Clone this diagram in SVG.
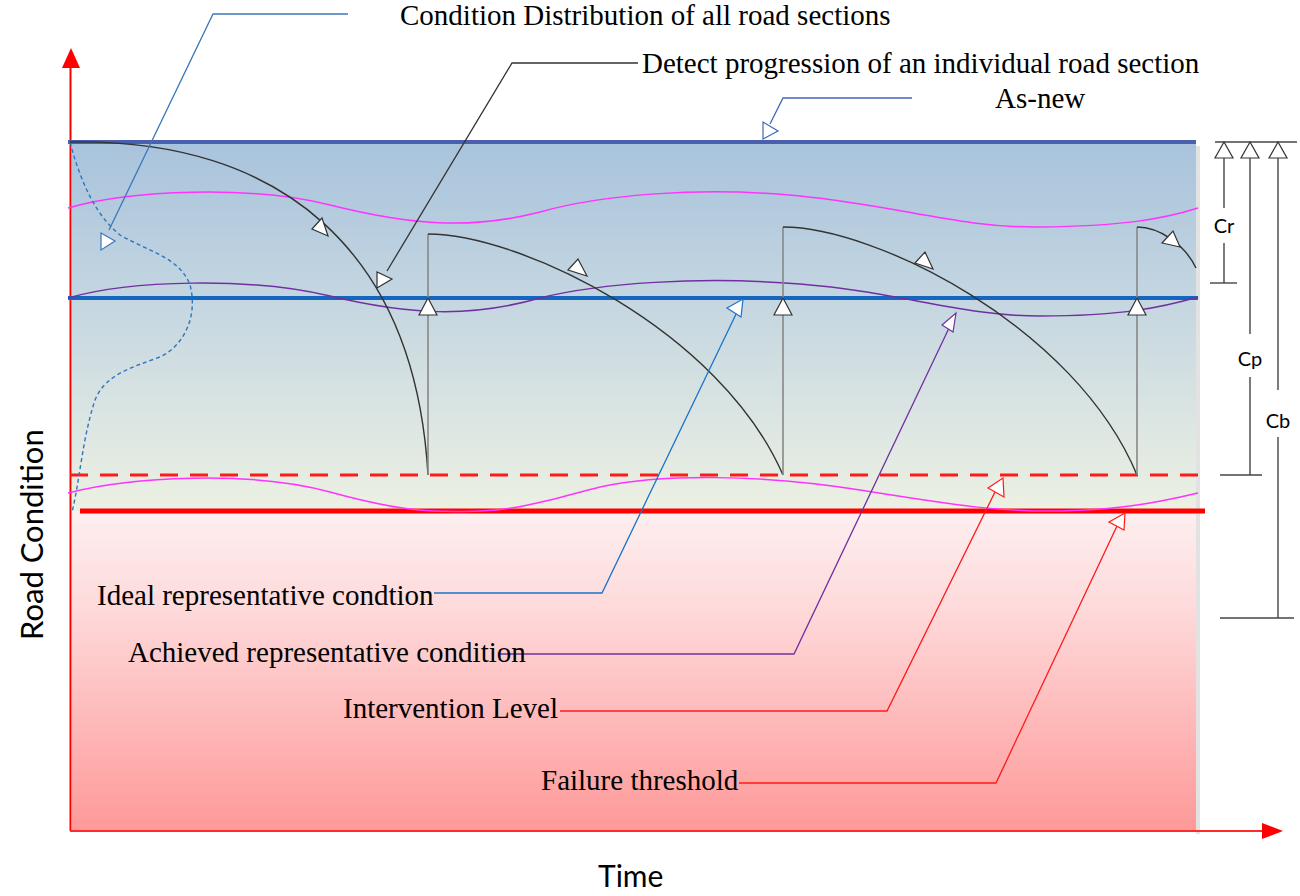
<svg xmlns="http://www.w3.org/2000/svg" width="1300" height="896" viewBox="0 0 1300 896">
<defs>
<linearGradient id="gTop" x1="0" y1="0" x2="0" y2="1">
<stop offset="0" stop-color="#a8c3dc"/>
<stop offset="0.45" stop-color="#c6d7e1"/>
<stop offset="1" stop-color="#edf1e3"/>
</linearGradient>
<linearGradient id="gBot" x1="0" y1="0" x2="0" y2="1">
<stop offset="0" stop-color="#fdeff0"/>
<stop offset="0.3" stop-color="#fedadb"/>
<stop offset="1" stop-color="#fe9999"/>
</linearGradient>
<style>
.serif{font-family:"Liberation Serif","DejaVu Serif",serif;font-size:29px;fill:#000}
.sans{font-family:Lato,"Liberation Sans",sans-serif;fill:#000}
.tri{fill:#ffffff;stroke:#333;stroke-width:1.2;stroke-linejoin:miter}
.curve{fill:none;stroke:#333;stroke-width:1.4}
.vert{fill:none;stroke:#888;stroke-width:1.6}
.dim{fill:none;stroke:#444;stroke-width:1.4}
.lead{fill:none;stroke-width:1.3}
</style>
</defs>
<rect width="1300" height="896" fill="#ffffff"/>

<g id="background">
<rect x="1196" y="146" width="4" height="688" fill="#e2e2e2"/>
<rect x="72" y="142" width="1124" height="370" fill="url(#gTop)"/>
<rect x="72" y="511" width="1124" height="320" fill="url(#gBot)"/>
</g>

<g id="axes">
<line x1="70.5" y1="66" x2="70.5" y2="831" stroke="#ff0000" stroke-width="2"/>
<polygon points="71,48 62,68 80,68" fill="#ff0000"/>
<line x1="70" y1="831" x2="1264" y2="831" stroke="#ff2a2a" stroke-width="2"/>
<polygon points="1283,831 1262,823 1262,839" fill="#ff0000"/>
<text class="sans" font-size="31" transform="translate(43,640) rotate(-90)">Road Condition</text>
<text class="sans" font-size="30" x="598" y="887">Time</text>
</g>

<g id="levels">
<line id="as-new-line" x1="68" y1="142" x2="1196" y2="142" stroke="#4a5fae" stroke-width="4"/>
<line id="ideal-line" x1="68" y1="298" x2="1198" y2="298" stroke="#1466be" stroke-width="4"/>
<line id="intervention-line" x1="70" y1="475" x2="1198" y2="475" stroke="#ff1a1a" stroke-width="3" stroke-dasharray="18,12"/>
<line id="failure-line" x1="80" y1="511" x2="1205" y2="511" stroke="#ff0000" stroke-width="5"/>
</g>

<g id="distribution-curves">
<path d="M68,208 C130,190 250,185 330,205 S470,230 540,212 C600,195 700,186 800,196 S960,228 1040,227 S1160,220 1198,208" fill="none" stroke="#ff33ff" stroke-width="1.5"/>
<path d="M68,298 C130,280 250,277 330,296 S470,318 540,298 C600,283 700,276 800,284 S960,316 1040,316 S1160,308 1198,297" fill="none" stroke="#7030a0" stroke-width="1.5"/>
<path d="M68,493 C130,477 250,470 330,492 S440,512 480,511 S560,497 600,487 C660,474 760,474 860,490 S1000,512 1060,511 S1160,502 1198,493" fill="none" stroke="#ff33ff" stroke-width="1.5"/>
<path d="M70,142 C80,180 95,215 120,235 C150,252 180,258 190,285 C198,315 185,345 160,357 C130,368 105,375 95,400 C82,440 80,480 72,512" fill="none" stroke="#2e75c0" stroke-width="1.4" stroke-dasharray="4,3"/>
</g>

<g id="progression">
<path class="curve" d="M70,142 C280,138 415,250 428,475"/>
<line class="vert" x1="428" y1="475" x2="428" y2="234"/>
<path class="curve" d="M428,234 C520,234 720,330 783,475"/>
<line class="vert" x1="783" y1="475" x2="783" y2="227"/>
<path class="curve" d="M783,227 C875,227 1075,326 1137,475"/>
<line class="vert" x1="1137" y1="475" x2="1137" y2="227"/>
<path class="curve" d="M1137,227 C1160,227 1185,245 1196,268"/>
<polygon class="tri" points="312,229 322,218 328,236"/>
<polygon class="tri" points="568,270 578,259 587,276"/>
<polygon class="tri" points="915,263 925,252 933,269"/>
<polygon class="tri" points="1162,243 1173,231 1180,247"/>
<polygon class="tri" points="428,298 419,315 437,315"/>
<polygon class="tri" points="783,298 774,315 792,315"/>
<polygon class="tri" points="1137,298 1128,315 1146,315"/>
</g>

<g id="connectors">
<polyline class="lead" stroke="#3a78b8" points="348,14 213,14 109,230"/>
<polygon points="101,233 101,250 115,241" fill="#fff" stroke="#3a78b8" stroke-width="1.2"/>
<polyline class="lead" stroke="#333" points="638,63 512,63 387,271"/>
<polygon points="377,272 377,288 392,279" fill="#fff" stroke="#333" stroke-width="1.2"/>
<polyline class="lead" stroke="#4466bb" points="912,98 783,98 770,124"/>
<polygon points="763,122 763,139 778,131" fill="#fff" stroke="#4466bb" stroke-width="1.2"/>
<polyline class="lead" stroke="#1a73c9" points="434,593 602,593 738,310"/>
<polygon points="727,308 743,299 741,317" fill="#fff" stroke="#1a73c9" stroke-width="1.2"/>
<polyline class="lead" stroke="#7030a0" points="500,654 794,654 950,326"/>
<polygon points="942,325 956,313 953,332" fill="#fff" stroke="#7030a0" stroke-width="1.2"/>
<polyline class="lead" stroke="#ff1a1a" points="560,711 887,711 997,488"/>
<polygon points="988,488 1003,478 1004,497" fill="#fff" stroke="#ff1a1a" stroke-width="1.2"/>
<polyline class="lead" stroke="#ff1a1a" points="739,783 996,783 1117,526"/>
<polygon points="1109,522 1125,513 1124,530" fill="#fff" stroke="#ff1a1a" stroke-width="1.2"/>
</g>

<g id="labels">
<text id="lbl-distribution" class="serif" x="400" y="25">Condition Distribution of all road sections</text>
<text id="lbl-detect" class="serif" x="642" y="73">Detect progression of an individual road section</text>
<text id="lbl-asnew" class="serif" x="995" y="108">As-new</text>
<text id="lbl-ideal" class="serif" x="97" y="605">Ideal representative condtion</text>
<text id="lbl-achieved" class="serif" x="128" y="662">Achieved representative condition</text>
<text id="lbl-intervention" class="serif" x="343" y="718">Intervention Level</text>
<text id="lbl-failure" class="serif" x="541" y="790">Failure threshold</text>
</g>

<g id="dimensions">
<line class="dim" x1="1215" y1="142" x2="1297" y2="142"/>
<polygon class="tri" points="1224,142 1215,158 1233,158"/>
<polygon class="tri" points="1250,142 1241,158 1259,158"/>
<polygon class="tri" points="1278,142 1269,158 1287,158"/>
<line class="dim" x1="1224" y1="158" x2="1224" y2="208"/>
<line class="dim" x1="1224" y1="243" x2="1224" y2="283"/>
<line class="dim" x1="1210" y1="283" x2="1237" y2="283"/>
<text class="sans" font-size="20" x="1224" y="233" text-anchor="middle">Cr</text>
<line class="dim" x1="1250" y1="158" x2="1250" y2="334"/>
<line class="dim" x1="1250" y1="377" x2="1250" y2="475"/>
<line class="dim" x1="1220" y1="475" x2="1262" y2="475"/>
<text class="sans" font-size="20" x="1250" y="366" text-anchor="middle">Cp</text>
<line class="dim" x1="1278" y1="158" x2="1278" y2="390"/>
<line class="dim" x1="1278" y1="437" x2="1278" y2="618"/>
<line class="dim" x1="1220" y1="618" x2="1294" y2="618"/>
<text class="sans" font-size="20" x="1278" y="428" text-anchor="middle">Cb</text>
</g>
</svg>
